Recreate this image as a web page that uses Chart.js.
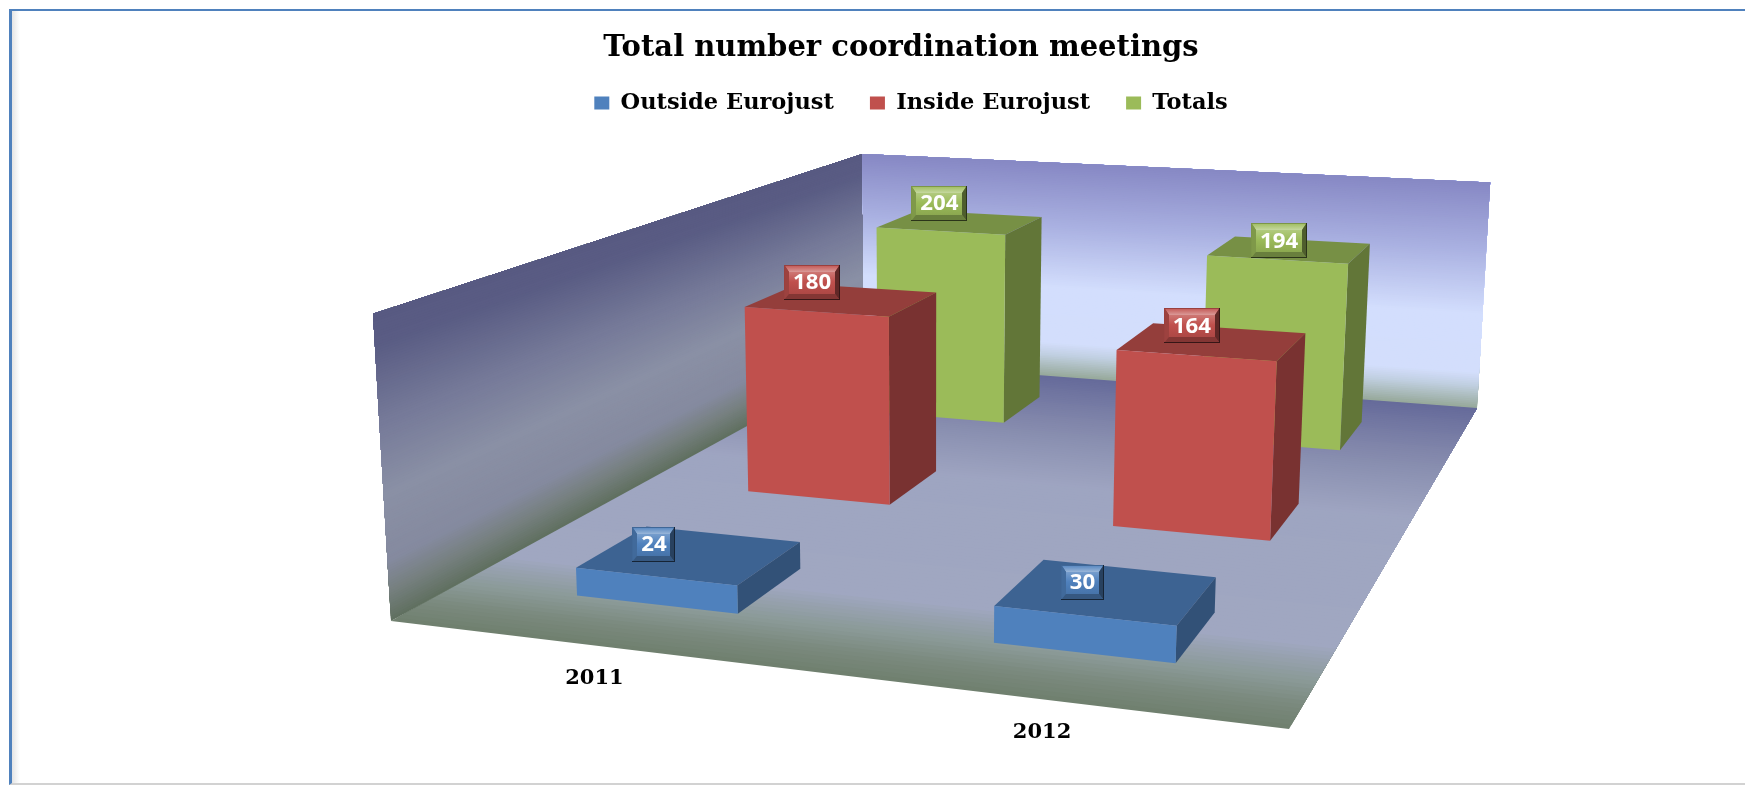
<!DOCTYPE html>
<html>
<head>
<meta charset="utf-8">
<title>Total number coordination meetings</title>
<script src="https://cdn.jsdelivr.net/npm/chart.js@4/dist/chart.umd.min.js"></script>
<style>
html,body{margin:0;padding:0;background:#fff;overflow:hidden}
#frame{position:absolute;left:9px;top:9px;width:1736px;height:776px;box-sizing:border-box;
 border-left:3px solid #4F81BD;border-top:2px solid #4F81BD;border-bottom:2px solid #d2d2d2;
 background:linear-gradient(to right,#e4e4e4,#f6f6f6 5px,#fff 8px)}
canvas{position:absolute;left:0;top:0;display:block}
</style>
</head>
<body>
<div id="frame"></div>
<canvas id="c" width="1745" height="787"></canvas>
<script>
const chartTitle = 'Total number coordination meetings';
const categories = ['2011', '2012'];
const outsideEurojust = [24, 30];
const insideEurojust = [180, 164];
const totals = [204, 194];
const valueMax = 250;

const seriesColors = ['#4F81BD', '#C0504D', '#9BBB59'];

// camera: world (u across, h up, v into the picture) to screen
const CAM = [[741.8, -30, 906.8, 391], [19.6, -317.3, -77.2, 621], [-0.1212, -0.0323, 0.5021, 1]];
const project = (u, h, v) => {
  const w = CAM[2][0]*u + CAM[2][1]*h + CAM[2][2]*v + CAM[2][3];
  return [(CAM[0][0]*u + CAM[0][1]*h + CAM[0][2]*v + CAM[0][3]) / w,
          (CAM[1][0]*u + CAM[1][1]*h + CAM[1][2]*v + CAM[1][3]) / w];
};

const hexRgb = s => [1, 3, 5].map(i => parseInt(s.substr(i, 2), 16));
const mix = (a, b, t) => { const x = hexRgb(a), y = hexRgb(b);
  return 'rgb(' + x.map((c, i) => Math.round(c + (y[i] - c) * t)).join(',') + ')'; };
const ramp = (stops, t) => {
  for (let i = 1; i < stops.length; i++) if (t <= stops[i][0]) {
    const f = (t - stops[i-1][0]) / (stops[i][0] - stops[i-1][0]);
    return mix(stops[i-1][1], stops[i][1], f);
  }
  return stops[stops.length - 1][1];
};
const poly = (ctx, pts, fill) => {
  ctx.beginPath(); pts.forEach((p, i) => i ? ctx.lineTo(p[0], p[1]) : ctx.moveTo(p[0], p[1]));
  ctx.closePath(); ctx.fillStyle = fill; ctx.fill();
};

const floorRamp = [[0,'#6f7f6e'],[0.05,'#7b8a7e'],[0.1,'#8b9a98'],[0.18,'#a0a7c1'],[0.55,'#9ea5c1'],[0.75,'#878cae'],[1,'#656a9a']];
const sideRamp = [[0,'#5f6f5f'],[0.1,'#76807f'],[0.2,'#858a9f'],[0.42,'#8a90a5'],[0.65,'#767a99'],[0.9,'#5a5c84'],[1,'#585a82']];
const backRamp = [[0,'#96a899'],[0.1,'#c0cfe0'],[0.16,'#d3defc'],[0.42,'#d3defd'],[0.72,'#a8afe0'],[1,'#8688c4']];

function paintStrips(ctx, stops, at, n) {
  for (let k = 0; k < n; k++) {
    const t = k / n;
    poly(ctx, [at(0, t), at(1, t), at(1, 1), at(0, 1)], ramp(stops, (k + 0.5) / n));
  }
}

// label box position relative to the centre of the bar's top face: [dx,dy] by series, category
const labelNudge = [[[-36,-11],[-25,-10]], [[-30,-18],[-21,-16]], [[-21,-19],[-11,-9]]];

function bevelLabel(ctx, cx, cy, text, color) {
  ctx.font = 'bold 21px "Open Sans"';
  const w = Math.round(ctx.measureText(text).width * 1.06) + 18, h = 35;
  const l = Math.round(cx - w/2), t = Math.round(cy - h/2), r = l + w, b = t + h, bs = 4, ts = 6, bb = 5;
  ctx.fillStyle = mix(color, '#000000', 0.2); ctx.fillRect(l, t, w, h);
  ctx.fillStyle = mix(color, '#000000', 0.72); ctx.fillRect(r - 1, t, 1, h); ctx.fillRect(l, b - 1, w, 1);
  const L = l + 1, T = t + 1, R = r - 1, B = b - 1;
  const gt = ctx.createLinearGradient(0, T, 0, T + ts);
  gt.addColorStop(0, mix(color, '#ffffff', 0.08));
  gt.addColorStop(1, mix(color, '#ffffff', 0.42));
  poly(ctx, [[L,T],[R,T],[R-bs,T+ts],[L+bs,T+ts]], gt);
  poly(ctx, [[L,T],[L+bs,T+ts],[L+bs,B-bb],[L,B]], mix(color, '#000000', 0.18));
  poly(ctx, [[R,T],[R-bs,T+ts],[R-bs,B-bb],[R,B]], mix(color, '#000000', 0.5));
  poly(ctx, [[L,B],[L+bs,B-bb],[R-bs,B-bb],[R,B]], mix(color, '#000000', 0.32));
  const g = ctx.createLinearGradient(0, T+ts, 0, B-bb);
  g.addColorStop(0, mix(color, '#ffffff', 0.22));
  g.addColorStop(0.45, color);
  g.addColorStop(1, mix(color, '#000000', 0.1));
  ctx.fillStyle = g; ctx.fillRect(L+bs, T+ts, R-L-2*bs, B-T-ts-bb);
  ctx.save();
  ctx.translate(cx, cy + 1); ctx.scale(1.06, 1);
  ctx.fillStyle = '#fff'; ctx.textAlign = 'center'; ctx.textBaseline = 'middle';
  ctx.fillText(text, 0, 0);
  ctx.restore();
}

const scene3d = {
  id: 'scene3d',
  afterLayout(chart) {
    // the legend sits a little right of the title
    chart.legend.left += 10; chart.legend.right += 10;
  },
  beforeDatasetsDraw(chart) {
    const ctx = chart.ctx, area = chart.chartArea, x = chart.scales.x, y = chart.scales.y;
    ctx.save();
    // walls and floor
    paintStrips(ctx, floorRamp, (s, t) => project(s, 0, t), 120);
    paintStrips(ctx, sideRamp, (s, t) => project(0, t, s), 120);
    paintStrips(ctx, backRamp, (s, t) => project(s, t, 1), 120);

    const n = chart.data.datasets.length, depth = 0.125;
    const boxes = [];
    for (let i = n - 1; i >= 0; i--) {
      const ds = chart.data.datasets[i], meta = chart.getDatasetMeta(i);
      const vc = (i + 0.5) / n, v0 = vc - depth/2, v1 = vc + depth/2;
      meta.data.forEach((el, j) => {
        const u0 = (el.x - el.width/2 - area.left) / area.width;
        const u1 = (el.x + el.width/2 - area.left) / area.width;
        const h = (y.bottom - el.y) / (y.bottom - y.top);
        const c = ds.backgroundColor;
        const pts = [project(u0,h,v0), project(u1,h,v0), project(u1,h,v1), project(u0,h,v1)];
        poly(ctx, pts, mix(c, '#000000', 0.23));
        poly(ctx, [project(u1,0,v0), project(u1,0,v1), project(u1,h,v1), project(u1,h,v0)], mix(c, '#000000', 0.37));
        poly(ctx, [project(u0,0,v0), project(u1,0,v0), project(u1,h,v0), project(u0,h,v0)], c);
        const mx = pts.reduce((a,p)=>a+p[0],0)/4, my = pts.reduce((a,p)=>a+p[1],0)/4;
        boxes.push({cx: mx + labelNudge[i][j][0], cy: my + labelNudge[i][j][1], text: String(ds.data[j]), c});
      });
    }
    boxes.forEach(b => bevelLabel(ctx, b.cx, b.cy, b.text, b.c));

    // category labels under the front edge of the floor
    ctx.fillStyle = '#000'; ctx.font = 'bold 21px "DejaVu Serif"';
    ctx.textAlign = 'center'; ctx.textBaseline = 'middle';
    x.getLabels().forEach((lab, j) => {
      const p = project((x.getPixelForValue(j) - area.left) / area.width, 0, 0);
      ctx.fillText(lab, p[0], p[1] + 33);
    });
    ctx.restore();
    return false; // bars are drawn above in 3D
  }
};

new Chart(document.getElementById('c'), {
  type: 'bar',
  plugins: [scene3d],
  data: {
    labels: categories,
    datasets: [
      { label: 'Outside Eurojust', data: outsideEurojust, backgroundColor: seriesColors[0] },
      { label: 'Inside Eurojust', data: insideEurojust, backgroundColor: seriesColors[1] },
      { label: 'Totals', data: totals, backgroundColor: seriesColors[2] }
    ]
  },
  options: {
    responsive: false,
    animation: false,
    layout: { padding: { left: 57, top: 0 } },
    datasets: { bar: { grouped: false, barPercentage: 0.4, categoryPercentage: 1 } },
    scales: {
      x: { display: false },
      y: { display: false, min: 0, max: valueMax }
    },
    plugins: {
      tooltip: { enabled: false },
      title: { display: true, text: chartTitle, color: '#000',
        font: { family: '"DejaVu Serif"', weight: 'bold', size: 29 }, padding: { top: 31, bottom: -10 } },
      legend: { display: true, position: 'top',
        labels: { color: '#000', boxWidth: 15, boxHeight: 13, padding: 36,
          font: { family: '"DejaVu Serif"', weight: 'bold', size: 22.5 } } }
    }
  }
});
</script>
</body>
</html>
